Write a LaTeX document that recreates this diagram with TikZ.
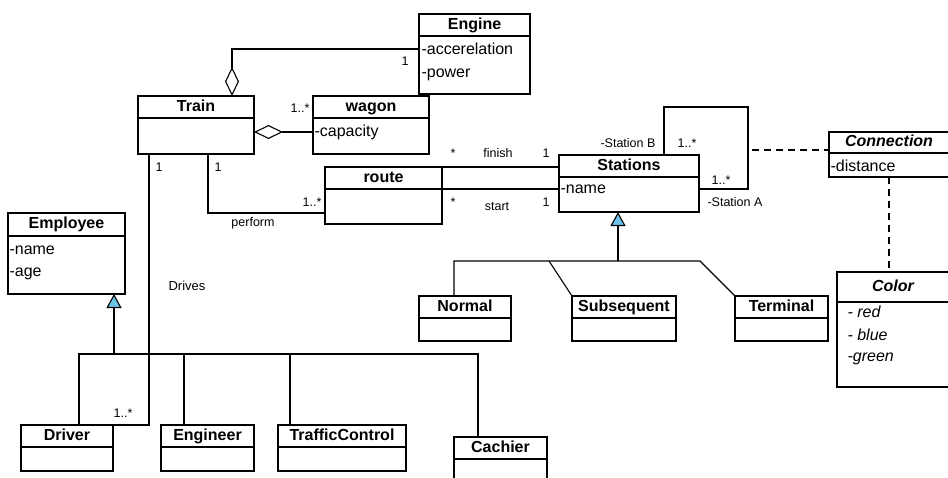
\documentclass[tikz,border=0pt]{standalone}
\usepackage{fontspec}
\setmainfont{Liberation Sans}
\usetikzlibrary{positioning,arrows.meta}

\definecolor{umlblue}{RGB}{110,195,235}

\tikzset{
	classhead/.style={draw, rectangle, anchor=north west, inner sep=0pt, outer sep=0pt, minimum height=22, text height=12, text depth=3.5, font=\fontsize{16}{19}\selectfont\bfseries},
	classbody/.style={draw, rectangle, inner sep=0pt, outer sep=0pt},
	attr/.style={anchor=west, inner sep=0pt, text height=12, text depth=4, font=\fontsize{16}{19}\selectfont},
	lbl/.style={inner sep=0pt, font=\fontsize{12.5}{15}\selectfont},
	aggregation/.style={-{Diamond[fill=white, length=29pt, width=14pt]}},
	generalization/.style={-{Triangle[fill=umlblue, length=14pt, width=15pt]}},
	assocline/.style={dash pattern=on 7pt off 5pt}
}

\begin{document}
\begin{tikzpicture}[x=1pt, y=-1pt, line width=1.1pt]
	\clip (0,0) rectangle (948,477);

	% classes
	\node[classhead, minimum width=111] (engineh) at (419,14) {Engine};
	\node[classbody, minimum width=111, minimum height=58, below=0pt of engineh] (engineb) {};
	\node[attr] (engineacc) at (421,50) {-accerelation};
	\node[attr] (enginepow) at (421,73) {-power};

	\node[classhead, minimum width=116] (trainh) at (138,96) {Train};
	\node[classbody, minimum width=116, minimum height=36, below=0pt of trainh] (trainb) {};

	\node[classhead, minimum width=116] (wagonh) at (313,96) {wagon};
	\node[classbody, minimum width=116, minimum height=36, below=0pt of wagonh] (wagonb) {};
	\node[attr] (wagoncap) at (314,132) {-capacity};

	\node[classhead, minimum width=117] (routeh) at (325,167) {route};
	\node[classbody, minimum width=117, minimum height=35, below=0pt of routeh] (routeb) {};

	\node[classhead, minimum width=140] (stationsh) at (559,155) {Stations};
	\node[classbody, minimum width=140, minimum height=35, below=0pt of stationsh] (stationsb) {};
	\node[attr] (stationsname) at (560,189) {-name};

	\node[classhead, minimum width=120, minimum height=21, font=\fontsize{16}{19}\selectfont\bfseries\itshape] (connh) at (829,132) {Connection};
	\node[classbody, minimum width=120, minimum height=24, below=0pt of connh] (connb) {};
	\node[attr] (conndist) at (830,167) {-distance};

	\node[classhead, minimum width=112, minimum height=30, font=\fontsize{16}{19}\selectfont\bfseries\itshape] (colorh) at (837,272) {Color};
	\node[classbody, minimum width=112, minimum height=85, below=0pt of colorh] (colorb) {};
	\node[attr, font=\fontsize{16}{19}\selectfont\itshape] (colorred) at (847,313) {- red};
	\node[attr, font=\fontsize{16}{19}\selectfont\itshape] (colorblue) at (847,336) {- blue};
	\node[attr, font=\fontsize{16}{19}\selectfont\itshape] (colorgreen) at (847,357) {-green};

	\node[classhead, minimum width=117, minimum height=23] (employeeh) at (8,213) {Employee};
	\node[classbody, minimum width=117, minimum height=58, below=0pt of employeeh] (employeeb) {};
	\node[attr] (employeename) at (9,250) {-name};
	\node[attr] (employeeage) at (9,272) {-age};

	\node[classhead, minimum width=92] (normalh) at (419,296) {Normal};
	\node[classbody, minimum width=92, minimum height=23, below=0pt of normalh] (normalb) {};
	\node[classhead, minimum width=104] (subsequenth) at (572,296) {Subsequent};
	\node[classbody, minimum width=104, minimum height=23, below=0pt of subsequenth] (subsequentb) {};
	\node[classhead, minimum width=93] (terminalh) at (735,296) {Terminal};
	\node[classbody, minimum width=93, minimum height=23, below=0pt of terminalh] (terminalb) {};

	\node[classhead, minimum width=92] (driverh) at (21,425) {Driver};
	\node[classbody, minimum width=92, minimum height=24, below=0pt of driverh] (driverb) {};
	\node[classhead, minimum width=93] (engineerh) at (161,425) {Engineer};
	\node[classbody, minimum width=93, minimum height=24, below=0pt of engineerh] (engineerb) {};
	\node[classhead, minimum width=128] (traffich) at (278,425) {TrafficControl};
	\node[classbody, minimum width=128, minimum height=24, below=0pt of traffich] (trafficb) {};
	\node[classhead, minimum width=93] (cachierh) at (454,437) {Cachier};
	\node[classbody, minimum width=93, minimum height=30, below=0pt of cachierh] (cachierb) {};

	% aggregations
	\draw[aggregation] ([yshift=-13]engineb.north west) -| ([xshift=-22]trainh.north east);
	\draw[aggregation] ([yshift=-14]wagonb.north west) -- ([yshift=-14]trainb.north east);
	\node[lbl] (enginemult) at (405,61) {1};
	\node[lbl] (wagonmult) at (300,108) {1..*};

	% train - route
	\draw ([xshift=-46]trainb.south east) |- ([yshift=11]routeb.south west);
	\node[lbl] (trainroutemult) at (218,167) {1};
	\node[lbl] (routemult) at (312,202) {1..*};
	\node[lbl] (performlbl) at (253,223) {perform};

	% route - stations
	\draw (routeh.north east) -- (routeh.north east -| stationsh.west);
	\draw (routeb.north east) -- (routeb.north east -| stationsb.west);
	\node[lbl] (finishstar) at (453,153) {*};
	\node[lbl] (finishlbl) at (498,153) {finish};
	\node[lbl] (finishone) at (546,153) {1};
	\node[lbl] (startstar) at (453,202) {*};
	\node[lbl] (startlbl) at (497,207) {start};
	\node[lbl] (startone) at (546,202) {1};

	% stations self association
	\coordinate (selfloop) at (748,107);
	\draw ([xshift=-35]stationsh.north east) |- (selfloop) |- ([yshift=-12]stationsb.north east);
	\node[lbl] (stationblbl) at (628,143) {-Station B};
	\node[lbl] (stationbmult) at (687,143) {1..*};
	\node[lbl] (stationamult) at (721,180) {1..*};
	\node[lbl] (stationalbl) at (735,202) {-Station A};

	% association class
	\coordinate (assoc) at (752,150);
	\draw[assocline] (assoc) -- (assoc -| connh.west);
	\draw[assocline] (connb.south) -- (connb.south |- colorh.north);

	% stations generalization
	\coordinate (stationsbus) at (618,261);
	\coordinate (normaltop) at (454,261);
	\coordinate (subsequenttop) at (549,261);
	\coordinate (terminaltop) at (700,261);
	\draw[generalization] (stationsbus) -- (stationsbus |- stationsb.south);
	\draw (normaltop |- normalh.north) -- (normaltop) -- (terminaltop) -- (terminalh.north west);
	\draw (subsequenttop) -- (subsequenth.north west);

	% employee generalization
	\coordinate (employeebus) at (114,354);
	\coordinate (drivertop) at (79,354);
	\coordinate (engineertop) at (184,354);
	\coordinate (traffictop) at (290,354);
	\coordinate (cachiertop) at (478,354);
	\draw[generalization] (employeebus) -- (employeebus |- employeeb.south);
	\draw (drivertop |- driverh.north) -- (drivertop) -- (cachiertop) -- (cachiertop |- cachierh.north);
	\draw (engineertop) -- (engineertop |- engineerh.north);
	\draw (traffictop) -- (traffictop |- traffich.north);

	% train - driver
	\draw ([xshift=11]trainb.south west) |- (driverh.north east);
	\node[lbl] (traindrivermult) at (159,167) {1};
	\node[lbl, font=\fontsize{13}{15}\selectfont] (driveslbl) at (187,286) {Drives};
	\node[lbl] (drivermult) at (123,413) {1..*};
\end{tikzpicture}
\end{document}
